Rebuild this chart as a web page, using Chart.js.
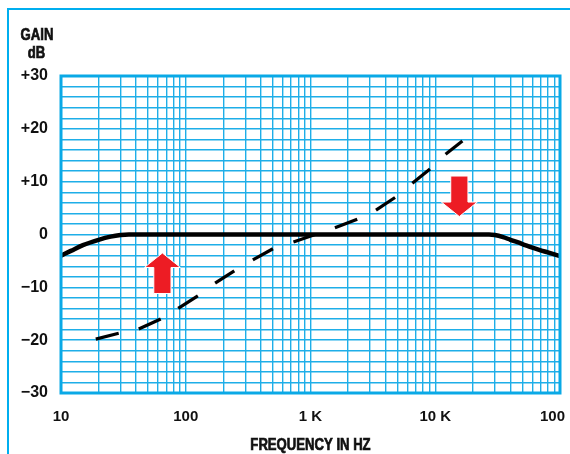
<!DOCTYPE html>
<html>
<head>
<meta charset="utf-8">
<script src="https://cdn.jsdelivr.net/npm/chart.js@4/dist/chart.umd.min.js"></script>
<style>
  html, body { margin: 0; padding: 0; background: #ffffff; }
  #wrap { width: 570px; height: 454px; }
</style>
</head>
<body>
<div id="wrap"><canvas id="chart" width="570" height="454"></canvas></div>
<script>
// Flat response (solid curve): frequency in Hz, gain in dB
const flatFreq = [10, 12, 15, 20, 25, 30, 35, 100, 1000, 10000, 20000, 27000, 30000, 35000, 40000, 50000, 60000, 70000, 80000, 100000];
const flatGain = [-4, -3.1, -2, -1, -0.4, -0.1, 0, 0, 0, 0, 0, 0, -0.1, -0.5, -1, -1.8, -2.5, -3, -3.4, -4.1];

// Rising response (dashed curve): pairs of points give the start and end of each dash
const riseFreq = [19, 29, 42, 63, 87, 125, 172, 245, 345, 500, 730, 1090, 1570, 2370, 3350, 4760, 6550, 9080, 12100, 16500];
const riseGain = [-19.8, -18.7, -17.9, -16, -14, -11.6, -9.2, -6.9, -4.8, -2.7, -1.4, 0, 1.3, 2.9, 4.6, 7, 9.7, 12.4, 15.2, 17.7];

// Axis labels
const xTickValues = [10, 100, 1000, 10000, 100000];
const xTickLabels = ['10', '100', '1 K', '10 K', '100 K'];
const yTickValues = [30, 20, 10, 0, -10, -20, -30];
const yTickLabels = ['+30', '+20', '+10', '0', '\u221210', '\u221220', '\u221230'];

// Arrow markers: tip position (Hz, dB) and direction
const arrowFreq = [65, 15600];
const arrowGain = [-3.5, 3.4];
const arrowDir = ['up', 'down'];

const GRID = '#1eaee8';
const FRAME = '#0aa9e6';
const RED = '#ed1c24';
const INK = '#111111';
const FONT = "'Liberation Sans', Arial, sans-serif";

// Log grid: 1..9 in every decade from 10 Hz to 100 kHz
const xGrid = [];
for (let d = 10; d < 100000; d *= 10) {
  for (let m = 1; m <= 9; m++) xGrid.push(d * m);
}
xGrid.push(100000);
const yGrid = [];
for (let v = -30; v <= 30; v += 2) yGrid.push(v);

// narrow heavy heading text
function condensedText(c, text, x, y) {
  c.save();
  c.translate(x, y);
  c.scale(0.82, 1);
  c.fillText(text, 0, 0);
  c.lineWidth = 0.7;
  c.strokeStyle = INK;
  c.strokeText(text, 0, 0);
  c.restore();
}

const chrome = {
  id: 'chrome',
  beforeDraw(chart) {
    const c = chart.ctx;
    c.save();
    c.fillStyle = '#ffffff';
    c.fillRect(0, 0, chart.width, chart.height);
    // page frame (top and left rules)
    c.strokeStyle = '#00aeef';
    c.lineWidth = 2;
    c.beginPath();
    c.moveTo(chart.width, 9);
    c.lineTo(8, 9);
    c.lineTo(8, chart.height);
    c.stroke();
    c.restore();
  },
  afterDatasetsDraw(chart) {
    const c = chart.ctx;
    const a = chart.chartArea;
    const xs = chart.scales.x, ys = chart.scales.y;
    c.save();
    // plot frame
    c.strokeStyle = FRAME;
    c.lineWidth = 3;
    c.strokeRect(a.left, a.top, a.right - a.left, a.bottom - a.top);
    // arrows
    for (let i = 0; i < arrowFreq.length; i++) {
      const tx = xs.getPixelForValue(arrowFreq[i]);
      const ty = ys.getPixelForValue(arrowGain[i]);
      const s = arrowDir[i] === 'up' ? 1 : -1;
      const headH = 14.5, headW = 18, shaftW = 8.6, len = 40.5;
      c.beginPath();
      c.moveTo(tx, ty);
      c.lineTo(tx + headW, ty + s * headH);
      c.lineTo(tx + shaftW, ty + s * headH);
      c.lineTo(tx + shaftW, ty + s * len);
      c.lineTo(tx - shaftW, ty + s * len);
      c.lineTo(tx - shaftW, ty + s * headH);
      c.lineTo(tx - headW, ty + s * headH);
      c.closePath();
      c.fillStyle = RED;
      c.fill();
      c.strokeStyle = '#ffffff';
      c.lineWidth = 1;
      c.stroke();
    }
    // axis titles
    c.fillStyle = INK;
    c.textAlign = 'center';
    c.textBaseline = 'alphabetic';
    c.font = 'bold 16px ' + FONT;
    condensedText(c, 'GAIN', 37, 39.5);
    condensedText(c, 'dB', 36.5, 57.5);
    condensedText(c, 'FREQUENCY IN HZ', (a.left + a.right) / 2, 449.5);
    c.restore();
  }
};

new Chart(document.getElementById('chart'), {
  type: 'line',
  data: {
    datasets: [
      {
        data: flatFreq.map((f, i) => ({ x: f, y: flatGain[i] })),
        borderColor: '#000000',
        borderWidth: 4.5,
        pointRadius: 0,
        cubicInterpolationMode: 'monotone',
        fill: false
      },
      {
        data: riseFreq.map((f, i) => ({ x: f, y: riseGain[i] })),
        borderColor: '#000000',
        borderWidth: 3.2,
        pointRadius: 0,
        tension: 0,
        fill: false,
        segment: {
          borderColor: ctx => (ctx.p0DataIndex % 2 === 1 ? 'rgba(0,0,0,0)' : '#000000')
        }
      }
    ]
  },
  options: {
    responsive: false,
    animation: false,
    events: [],
    layout: { padding: { left: 0, top: 76, right: 10, bottom: 0 } },
    plugins: { legend: { display: false }, tooltip: { enabled: false } },
    scales: {
      x: {
        type: 'logarithmic',
        min: 10,
        max: 100000,
        afterBuildTicks: s => { s.ticks = xGrid.map(v => ({ value: v })); },
        afterFit: s => { s.height = 61; s.paddingLeft = 0; s.paddingRight = 0; },
        grid: { color: GRID, lineWidth: 1.4, drawTicks: false },
        border: { display: false },
        ticks: {
          autoSkip: false,
          maxRotation: 0,
          padding: 15,
          color: INK,
          font: { family: FONT, size: 15, weight: 'bold' },
          callback: v => {
            const k = xTickValues.indexOf(v);
            return k >= 0 ? xTickLabels[k] : '';
          }
        }
      },
      y: {
        type: 'linear',
        min: -30,
        max: 30,
        afterBuildTicks: s => { s.ticks = yGrid.map(v => ({ value: v })); },
        afterFit: s => { s.width = 61; s.paddingTop = 0; s.paddingBottom = 0; },
        grid: { color: GRID, lineWidth: 1.4, drawTicks: false },
        border: { display: false },
        ticks: {
          autoSkip: false,
          padding: 13,
          color: INK,
          font: { family: FONT, size: 16, weight: 'bold' },
          callback: v => {
            const k = yTickValues.indexOf(v);
            return k >= 0 ? yTickLabels[k] : '';
          }
        }
      }
    }
  },
  plugins: [chrome]
});
</script>
</body>
</html>
